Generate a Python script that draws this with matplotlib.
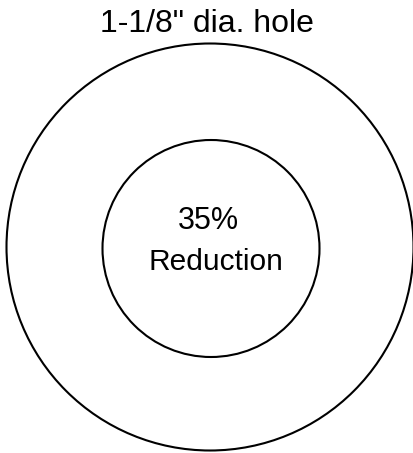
import matplotlib.pyplot as plt
from matplotlib.patches import Circle

# Ukuran lingkaran (dalam piksel gambar)
pusat_luar = (210, 247)
jari_luar = 203.5
pusat_dalam = (211, 248.5)
jari_dalam = 108.5

judul = '1-1/8" dia. hole'
label_dalam = ["35%", "Reduction"]

plt.rcParams['font.family'] = ['Liberation Sans', 'DejaVu Sans']

fig = plt.figure(figsize=(4.14, 4.53), dpi=100)
ax = fig.add_axes([0, 0, 1, 1])
ax.set_xlim(0, 414)
ax.set_ylim(453, 0)
ax.set_aspect('equal')
ax.axis('off')

# Lingkaran luar dan dalam
ax.add_patch(Circle(pusat_luar, jari_luar, fill=False, lw=1.5, color='black'))
ax.add_patch(Circle(pusat_dalam, jari_dalam, fill=False, lw=1.5, color='black'))

# Teks
ax.text(207, 32, judul, ha='center', va='baseline', fontsize=23)
ax.text(208, 229, label_dalam[0], ha='center', va='baseline', fontsize=22)
ax.text(216, 270, label_dalam[1], ha='center', va='baseline', fontsize=21.5)

fig.savefig('out.png', dpi=100)
